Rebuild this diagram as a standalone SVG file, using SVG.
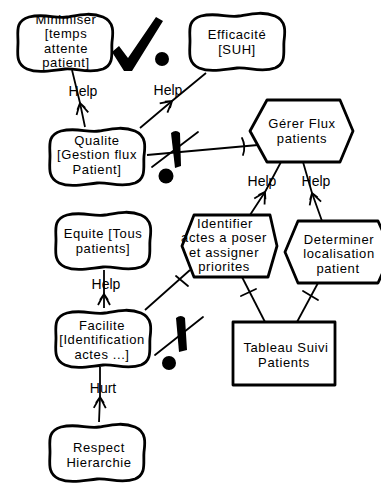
<svg xmlns="http://www.w3.org/2000/svg" xmlns:xlink="http://www.w3.org/1999/xlink" width="381" height="486" viewBox="0 0 381 486">
  <style>
    .shape { fill: #ffffff; stroke: #000000; stroke-width: 2.8; stroke-linejoin: round; }
    .lbl { font-family: "Liberation Sans", Arial, sans-serif; font-size: 13px; letter-spacing: 0.6px; fill: #000000; text-anchor: middle; }
    .tag { font-family: "Liberation Sans", Arial, sans-serif; font-size: 14px; fill: #000000; text-anchor: middle; }
    .link { fill: none; stroke: #000000; stroke-width: 1.8; }
    .bar { fill: none; stroke: #000000; stroke-width: 1.8; stroke-linecap: round; }
    .ink { fill: #000000; stroke: none; }
  </style>
  <defs>
    <!-- softgoal outline, 100 x 60 -->
    <path id="cloud" class="shape" d="M 14,5 C 30,1 40,7 52,5 C 64,3 76,0 88,5 C 100,10 98,22 97,30 C 96,40 100,52 88,57 C 74,62 62,56 50,57 C 38,58 24,62 12,57 C 0,52 3,40 3,30 C 3,20 0,9 14,5 Z"/>
    <!-- open contribution arrowhead -->
    <marker id="contrib" viewBox="-12 -8 14 16" markerWidth="14" markerHeight="16" refX="0" refY="0" orient="auto" markerUnits="userSpaceOnUse">
      <path d="M -11,-6 L 0,0 L -11,6 M -6,-4 L 0,0 L -6,4" fill="none" stroke="#000" stroke-width="1.8"/>
    </marker>
  </defs>

  <!-- connectors -->
  <g id="links">
    <!-- contributions (source -> arrow -> target) -->
    <path class="link" d="M 85,127 L 80,103 L 72,70" marker-mid="url(#contrib)"/>
    <path class="link" d="M 140,128 L 172,101 L 206,73" marker-mid="url(#contrib)"/>
    <path class="link" d="M 250,215 L 265,192 L 281,162" marker-mid="url(#contrib)"/>
    <path class="link" d="M 322,221 L 312,193 L 303,162" marker-mid="url(#contrib)"/>
    <path class="link" d="M 104,308 L 104,294 L 104,270" marker-mid="url(#contrib)"/>
    <path class="link" d="M 99,422 L 100,397 L 100,367" marker-mid="url(#contrib)"/>

    <!-- decomposition links with bars -->
    <path class="link" d="M 147,155 L 258,145"/>
    <path class="bar" d="M 242,138 Q 246,146 243,155"/>
    <path class="link" d="M 145,310 L 190,270"/>
    <path class="bar" d="M 176,276 L 188,286"/>
    <path class="link" d="M 265,322 L 242,277"/>
    <path class="bar" d="M 241,296 L 256,289"/>
    <path class="link" d="M 297,322 L 318,283"/>
    <path class="bar" d="M 303,291 L 318,300"/>

    <!-- labels -->
    <text class="tag" x="83" y="96">Help</text>
    <text class="tag" x="168" y="95">Help</text>
    <text class="tag" x="262" y="186">Help</text>
    <text class="tag" x="316" y="186">Help</text>
    <text class="tag" x="106" y="289">Help</text>
    <text class="tag" x="103" y="393">Hurt</text>
  </g>

  <!-- softgoals -->
  <g id="minimiser">
    <use xlink:href="#cloud" transform="translate(15,12)"/>
    <text class="lbl" x="66" y="23.5">Minimiser</text>
    <text class="lbl" x="66" y="38">[temps</text>
    <text class="lbl" x="66" y="52.5">attente</text>
    <text class="lbl" x="66" y="67">patient]</text>
  </g>
  <g id="efficacite">
    <use xlink:href="#cloud" transform="translate(187,11)"/>
    <text class="lbl" x="237" y="39">Efficacité</text>
    <text class="lbl" x="237" y="54">[SUH]</text>
  </g>
  <g id="qualite">
    <use xlink:href="#cloud" transform="translate(47,126)"/>
    <text class="lbl" x="97" y="144.5">Qualite</text>
    <text class="lbl" x="97" y="159">[Gestion flux</text>
    <text class="lbl" x="97" y="173.5">Patient]</text>
  </g>
  <g id="equite">
    <use xlink:href="#cloud" transform="translate(53,210)"/>
    <text class="lbl" x="103" y="237.5">Equite [Tous</text>
    <text class="lbl" x="103" y="252.5">patients]</text>
  </g>
  <g id="facilite">
    <use xlink:href="#cloud" transform="translate(53,308)"/>
    <text class="lbl" x="102" y="329.5">Facilite</text>
    <text class="lbl" x="102" y="344">[Identification</text>
    <text class="lbl" x="102" y="358.5">actes ...]</text>
  </g>
  <g id="respect">
    <use xlink:href="#cloud" transform="translate(47,422)"/>
    <text class="lbl" x="99" y="452">Respect</text>
    <text class="lbl" x="99" y="467">Hierarchie</text>
  </g>

  <!-- goals -->
  <g id="gerer-flux">
    <polygon class="shape" points="250,131 267,100 340,100 353,131 340,162 267,162"/>
    <text class="lbl" x="302" y="128">Gérer Flux</text>
    <text class="lbl" x="302" y="143">patients</text>
  </g>
  <g id="identifier">
    <polygon class="shape" points="182,246 194,215 270,215 277,246 268,277 194,277"/>
    <text class="lbl" x="225" y="227.5">Identifier</text>
    <text class="lbl" x="224" y="242">actes a poser</text>
    <text class="lbl" x="224" y="256.5">et assigner</text>
    <text class="lbl" x="224" y="271">priorites</text>
  </g>
  <g id="determiner">
    <polygon class="shape" points="285,252 298,221 378,221 392,252 378,283 298,283"/>
    <text class="lbl" x="339" y="243.5">Determiner</text>
    <text class="lbl" x="339" y="258">localisation</text>
    <text class="lbl" x="338" y="272.5">patient</text>
  </g>

  <!-- resource -->
  <g id="tableau">
    <rect class="shape" x="233" y="322" width="102" height="63"/>
    <text class="lbl" x="286" y="352">Tableau Suivi</text>
    <text class="lbl" x="284" y="367">Patients</text>
  </g>

  <!-- hand-drawn evaluation marks -->
  <g id="marks">
    <path class="ink" d="M 112,52 L 119,46 L 128,58 L 156,17 L 163,21 L 132,71 L 124,71 Z"/>
    <circle class="ink" cx="162" cy="59" r="7"/>

    <path class="ink" d="M 171,133 Q 176,129 180,133 L 181,166 L 175,168 Z"/>
    <path class="bar" d="M 152,167 L 198,132" stroke-width="3.5"/>
    <circle class="ink" cx="166" cy="176" r="7.5"/>

    <path class="ink" d="M 176,318 Q 181,314 185,318 L 187,350 L 179,352 Z"/>
    <path class="bar" d="M 155,355 L 203,317" stroke-width="3.5"/>
    <circle class="ink" cx="169" cy="363" r="7"/>
  </g>
</svg>
